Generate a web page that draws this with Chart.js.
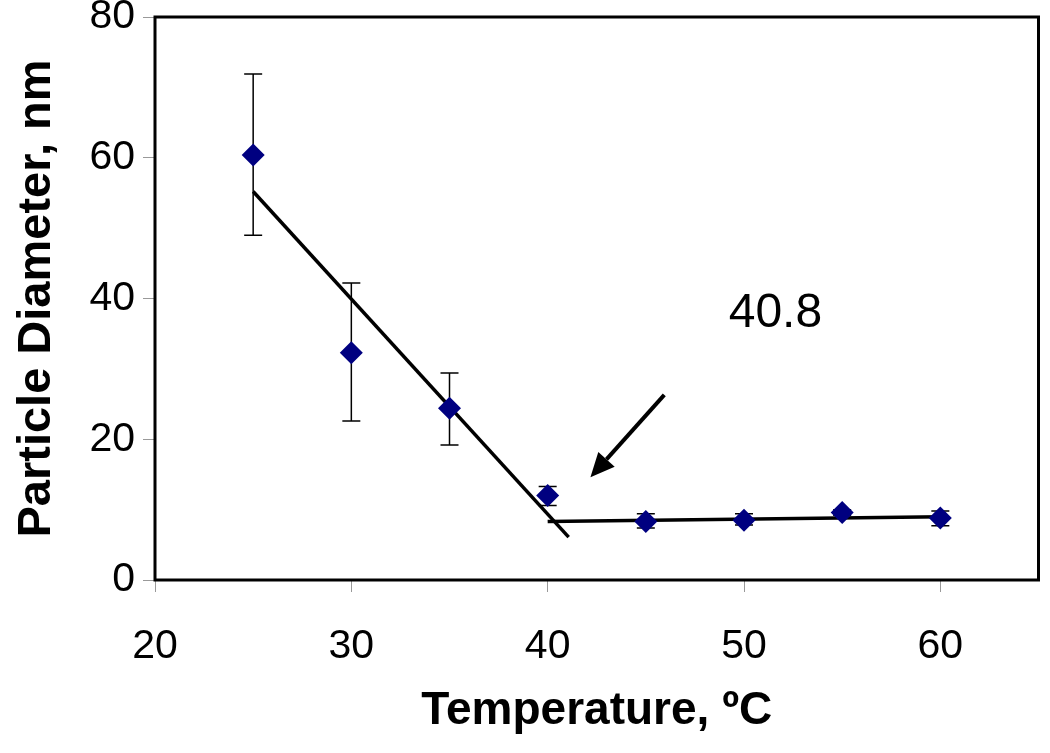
<!DOCTYPE html>
<html>
<head>
<meta charset="utf-8">
<script src="https://cdn.jsdelivr.net/npm/chart.js@4/dist/chart.umd.min.js"></script>
<style>
  html, body { margin: 0; padding: 0; background: #fff; }
  canvas { display: block; }
</style>
</head>
<body>
<canvas id="canvas" width="1050" height="753"></canvas>
<script>
// measured data
const temps = [25, 30, 35, 40, 45, 50, 55, 60]
const diameters = [60.4, 32.3, 24.4, 12.0, 8.3, 8.5, 9.6, 8.8]
const errHigh = [71.9, 42.2, 29.4, 13.3, 9.4, 9.4, 10.0, 9.8]
const errLow = [49.0, 22.6, 19.2, 10.6, 7.4, 7.8, 9.2, 7.7]

// two fitted lines
const fit1X = [25, 41.07]
const fit1Y = [55.2, 6.1]
const fit2X = [40, 60.1]
const fit2Y = [8.3, 9.0]

// arrow and label
const arrowX = [45.94, 42.18]
const arrowY = [26.3, 14.6]
const noteText = '40.8'
const noteX = 51.6
const noteY = 37.9

const xTicks = [20, 30, 40, 50, 60]
const yTicks = [0, 20, 40, 60, 80]

const FONT = "'Liberation Sans', Arial, sans-serif"

const toPts = (xs, ys) => xs.map((x, i) => ({ x: x, y: ys[i] }))

const frameAndExtras = {
    id: 'frameAndExtras',
    beforeDatasetsDraw(chart) {
        const { ctx, scales: { x, y } } = chart
        ctx.save()
        // error bars
        ctx.strokeStyle = '#000'
        ctx.lineWidth = 1.5
        temps.forEach((t, i) => {
            const px = x.getPixelForValue(t)
            const top = y.getPixelForValue(errHigh[i])
            const bot = y.getPixelForValue(errLow[i])
            ctx.beginPath()
            ctx.moveTo(px, top); ctx.lineTo(px, bot)
            ctx.moveTo(px - 9, top); ctx.lineTo(px + 9, top)
            ctx.moveTo(px - 9, bot); ctx.lineTo(px + 9, bot)
            ctx.stroke()
        })
        ctx.restore()
    },
    afterDatasetsDraw(chart) {
        const { ctx, chartArea: a, scales: { x, y } } = chart
        ctx.save()
        // plot box
        ctx.strokeStyle = '#000'
        ctx.lineWidth = 3
        ctx.strokeRect(a.left, a.top, a.right - a.left, a.bottom - a.top)

        // arrow
        const x0 = x.getPixelForValue(arrowX[0]), y0 = y.getPixelForValue(arrowY[0])
        const x1 = x.getPixelForValue(arrowX[1]), y1 = y.getPixelForValue(arrowY[1])
        const ang = Math.atan2(y1 - y0, x1 - x0)
        const headLen = 24, headW = 11
        const bx = x1 - headLen * Math.cos(ang), by = y1 - headLen * Math.sin(ang)
        ctx.lineWidth = 4
        ctx.beginPath()
        ctx.moveTo(x0, y0)
        ctx.lineTo(bx, by)
        ctx.stroke()
        ctx.fillStyle = '#000'
        ctx.beginPath()
        ctx.moveTo(x1, y1)
        ctx.lineTo(bx + headW * Math.sin(ang), by - headW * Math.cos(ang))
        ctx.lineTo(bx - headW * Math.sin(ang), by + headW * Math.cos(ang))
        ctx.closePath()
        ctx.fill()

        // note
        ctx.font = '48px ' + FONT
        ctx.textAlign = 'center'
        ctx.textBaseline = 'middle'
        ctx.fillText(noteText, x.getPixelForValue(noteX), y.getPixelForValue(noteY))
        ctx.restore()
    }
}

const lineSet = (pts) => ({
    data: pts,
    showLine: true,
    borderColor: '#000',
    borderWidth: 3.5,
    pointRadius: 0,
    order: 2
})

const configChart = {
    type: 'scatter',
    plugins: [frameAndExtras],
    data: {
        datasets: [
            {
                data: toPts(temps, diameters),
                pointStyle: 'rectRot',
                pointRadius: 11.5,
                backgroundColor: '#000080',
                borderColor: '#000080',
                borderWidth: 0,
                order: 1
            },
            lineSet(toPts(fit1X, fit1Y)),
            lineSet(toPts(fit2X, fit2Y))
        ]
    },
    options: {
        responsive: false,
        animation: false,
        layout: { padding: { top: 17, right: 3, left: 0, bottom: 0 } },
        plugins: {
            legend: { display: false },
            tooltip: { enabled: false }
        },
        scales: {
            x: {
                type: 'linear',
                min: 20,
                max: 65,
                afterFit(scale) {
                    scale.height = 173
                    scale.paddingLeft = 0
                    scale.paddingRight = 0
                },
                afterBuildTicks(scale) { scale.ticks = xTicks.map(v => ({ value: v })) },
                border: { display: false },
                grid: { drawOnChartArea: false, color: '#999', tickLength: 12, lineWidth: 1 },
                ticks: { color: '#000', font: { family: FONT, size: 41 }, padding: 30, maxRotation: 0 },
                title: {
                    display: true,
                    text: 'Temperature, ºC',
                    color: '#000',
                    font: { family: FONT, size: 46, weight: 'bold' },
                    padding: { top: 0, bottom: 14 }
                }
            },
            y: {
                type: 'linear',
                min: 0,
                max: 80,
                afterFit(scale) {
                    scale.width = 155
                    scale.paddingTop = 0
                    scale.paddingBottom = 0
                },
                afterBuildTicks(scale) { scale.ticks = yTicks.map(v => ({ value: v })) },
                border: { display: false },
                grid: { drawOnChartArea: false, color: '#999', tickLength: 12, lineWidth: 1 },
                ticks: { color: '#000', font: { family: FONT, size: 41 }, padding: 8 },
                title: {
                    display: true,
                    text: 'Particle Diameter, nm',
                    color: '#000',
                    font: { family: FONT, size: 47, weight: 'bold' },
                    padding: { top: 9, bottom: 0 }
                }
            }
        }
    }
}

const canvas = document.getElementById('canvas')
const myChart = new Chart(canvas, configChart)
</script>
</body>
</html>
